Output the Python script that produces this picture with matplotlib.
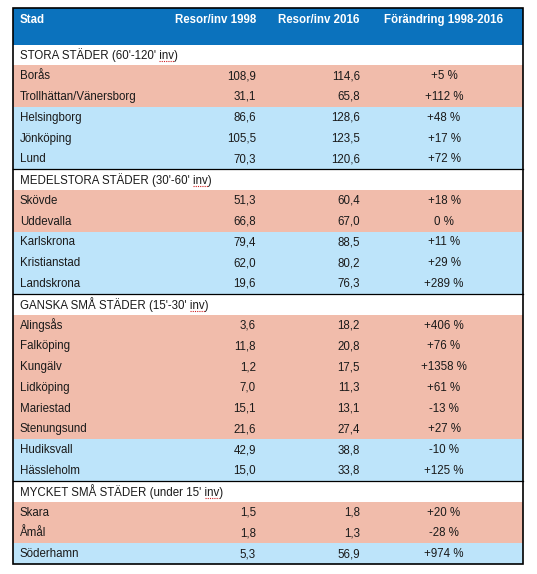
import matplotlib
matplotlib.use('Agg')
import matplotlib.pyplot as plt
from matplotlib.patches import Rectangle

plt.rcParams['font.family'] = ['Liberation Sans', 'DejaVu Sans']

# table contents
headers = ['Stad', 'Resor/inv 1998', 'Resor/inv 2016', 'Förändring 1998-2016']
sections = ["STORA STÄDER (60'-120' inv)",
            "MEDELSTORA STÄDER (30'-60' inv)",
            "GANSKA SMÅ STÄDER (15'-30' inv)",
            "MYCKET SMÅ STÄDER (under 15' inv)"]
cities = [
    ['Borås', 'Trollhättan/Vänersborg', 'Helsingborg', 'Jönköping', 'Lund'],
    ['Skövde', 'Uddevalla', 'Karlskrona', 'Kristianstad', 'Landskrona'],
    ['Alingsås', 'Falköping', 'Kungälv', 'Lidköping', 'Mariestad', 'Stenungsund',
     'Hudiksvall', 'Hässleholm'],
    ['Skara', 'Åmål', 'Söderhamn'],
]
trips_1998 = [
    ['108,9', '31,1', '86,6', '105,5', '70,3'],
    ['51,3', '66,8', '79,4', '62,0', '19,6'],
    ['3,6', '11,8', '1,2', '7,0', '15,1', '21,6', '42,9', '15,0'],
    ['1,5', '1,8', '5,3'],
]
trips_2016 = [
    ['114,6', '65,8', '128,6', '123,5', '120,6'],
    ['60,4', '67,0', '88,5', '80,2', '76,3'],
    ['18,2', '20,8', '17,5', '11,3', '13,1', '27,4', '38,8', '33,8'],
    ['1,8', '1,3', '56,9'],
]
change = [
    ['+5 %', '+112 %', '+48 %', '+17 %', '+72 %'],
    ['+18 %', '0 %', '+11 %', '+29 %', '+289 %'],
    ['+406 %', '+76 %', '+1358 %', '+61 %', '-13 %', '+27 %', '-10 %', '+125 %'],
    ['+20 %', '-28 %', '+974 %'],
]
# 'p' = salmon row, 'b' = light blue row
row_kind = [
    ['p', 'p', 'b', 'b', 'b'],
    ['p', 'p', 'b', 'b', 'b'],
    ['p', 'p', 'p', 'p', 'p', 'p', 'b', 'b'],
    ['p', 'p', 'b'],
]

W, H = 537, 574
fig = plt.figure(figsize=(W / 100, H / 100), dpi=100)
ax = fig.add_axes([0, 0, 1, 1])
ax.set_xlim(0, W)
ax.set_ylim(H, 0)
ax.axis('off')

left, right = 13, 523
top, head_bottom, bottom = 8, 44.5, 564
n_rows = len(sections) + sum(len(c) for c in cities)
rh = (bottom - head_bottom) / n_rows

fill = {'p': '#F1BCAB', 'b': '#BDE4FA'}
txt = '#1a1a1a'
fs = 8.3
x_city, x_c1, x_c2, x_c3 = 20, 256, 360, 444

# header
ax.add_patch(Rectangle((left, top), right - left, head_bottom - top,
                       facecolor='#0B72BD', edgecolor='none'))
hy = 20
ax.text(x_city, hy, headers[0], color='white', fontsize=fs, fontweight='bold', va='center')
ax.text(x_c1, hy, headers[1], color='white', fontsize=fs, fontweight='bold', va='center', ha='right')
ax.text(x_c2, hy, headers[2], color='white', fontsize=fs, fontweight='bold', va='center', ha='right')
ax.text(x_c3, hy, headers[3], color='white', fontsize=fs, fontweight='bold', va='center', ha='center')

fig.canvas.draw()
renderer = fig.canvas.get_renderer()
inv_t = ax.text(0, 0, 'inv', fontsize=fs)
inv_w = inv_t.get_window_extent(renderer).width
inv_t.remove()

y = head_bottom
for s, sec in enumerate(sections):
    if s > 0:
        ax.plot([left, right], [y, y], color='black', lw=0.9)
    cy = y + rh / 2 + 0.5
    t = ax.text(x_city, cy, sec, color=txt, fontsize=fs, va='center')
    # red spell-check squiggle under "inv"
    bb = t.get_window_extent(renderer)
    par_w = ax.text(0, 0, ')', fontsize=fs)
    pw = par_w.get_window_extent(renderer).width
    par_w.remove()
    x_end = x_city + bb.width - pw
    ax.plot([x_end - inv_w, x_end], [cy + 6, cy + 6], color='#d02020',
            lw=0.8, ls=(0, (1, 1)))
    y += rh
    for i, city in enumerate(cities[s]):
        ax.add_patch(Rectangle((left, y), right - left, rh,
                               facecolor=fill[row_kind[s][i]], edgecolor='none'))
        cy = y + rh / 2 + 0.5
        ax.text(x_city, cy, city, color=txt, fontsize=fs, va='center')
        ax.text(x_c1, cy, trips_1998[s][i], color=txt, fontsize=fs, va='center', ha='right')
        ax.text(x_c2, cy, trips_2016[s][i], color=txt, fontsize=fs, va='center', ha='right')
        ax.text(x_c3, cy, change[s][i], color=txt, fontsize=fs, va='center', ha='center')
        y += rh

# outer border
ax.add_patch(Rectangle((left, top), right - left, bottom - top,
                       facecolor='none', edgecolor='black', lw=1.2))

fig.savefig('out.png', dpi=100)
